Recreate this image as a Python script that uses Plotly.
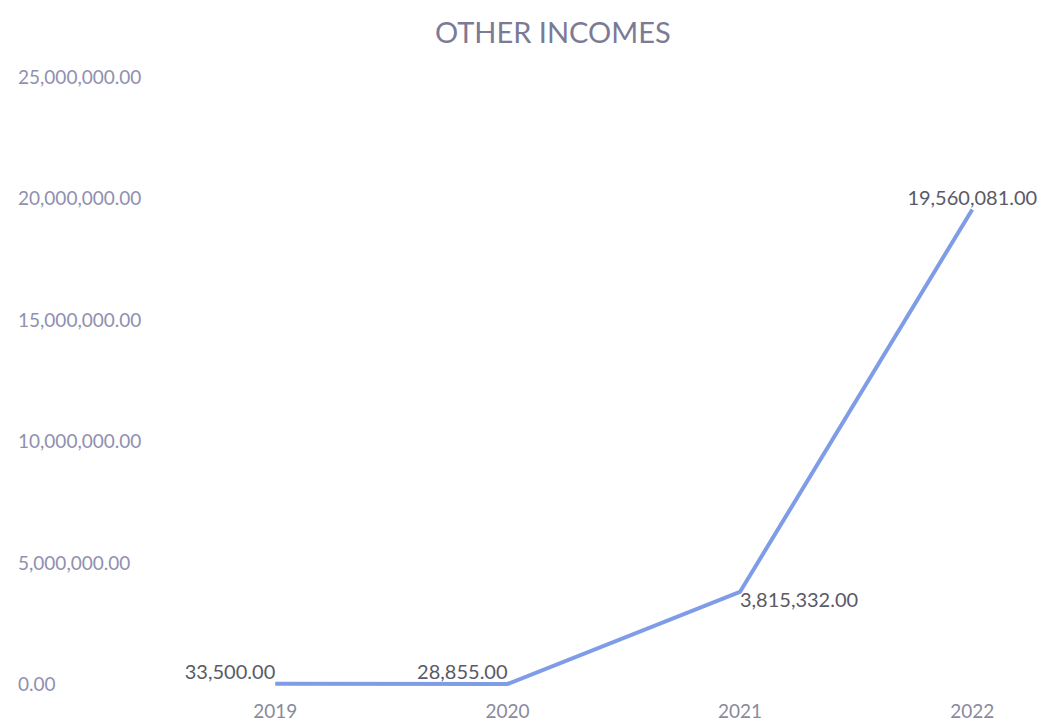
import plotly.graph_objects as go

years = ["2019", "2020", "2021", "2022"]
other_incomes = [33500.00, 28855.00, 3815332.00, 19560081.00]
label_positions = ["top left", "top left", "bottom right", "top center"]
y_ticks = [0, 5000000, 10000000, 15000000, 20000000, 25000000]

fig = go.Figure()
fig.add_trace(go.Scatter(
    x=years, y=other_incomes, mode="lines+text",
    line=dict(color="#7f9de6", width=4),
    text=[f"{v:,.2f}" for v in other_incomes],
    textposition=label_positions,
    textfont=dict(family="Lato, Open Sans, sans-serif", size=20, color="#5a5a66"),
    cliponaxis=False, showlegend=False,
))

fig.update_layout(
    width=1047, height=727,
    margin=dict(l=15, r=5, t=64, b=23),
    paper_bgcolor="white", plot_bgcolor="white",
    title=dict(text="OTHER INCOMES", x=0.528, xanchor="center", y=0.955, yanchor="middle",
               font=dict(family="Lato, Open Sans, sans-serif", size=29, color="#7b7b96")),
    font=dict(family="Lato, Open Sans, sans-serif"),
)
fig.update_xaxes(type="category", range=[-1.12, 3.3], showgrid=False, showline=False,
                 zeroline=False, ticks="",
                 tickfont=dict(size=19, color="#8a8a9c"))
fig.update_yaxes(range=[-550000, 25550000], tickvals=y_ticks,
                 ticktext=[f"{v:,.2f}" for v in y_ticks],
                 ticklabelposition="inside", showgrid=False, showline=False,
                 zeroline=False, ticks="",
                 tickfont=dict(size=19, color="#9090b0"))

fig.write_html("out.html")
